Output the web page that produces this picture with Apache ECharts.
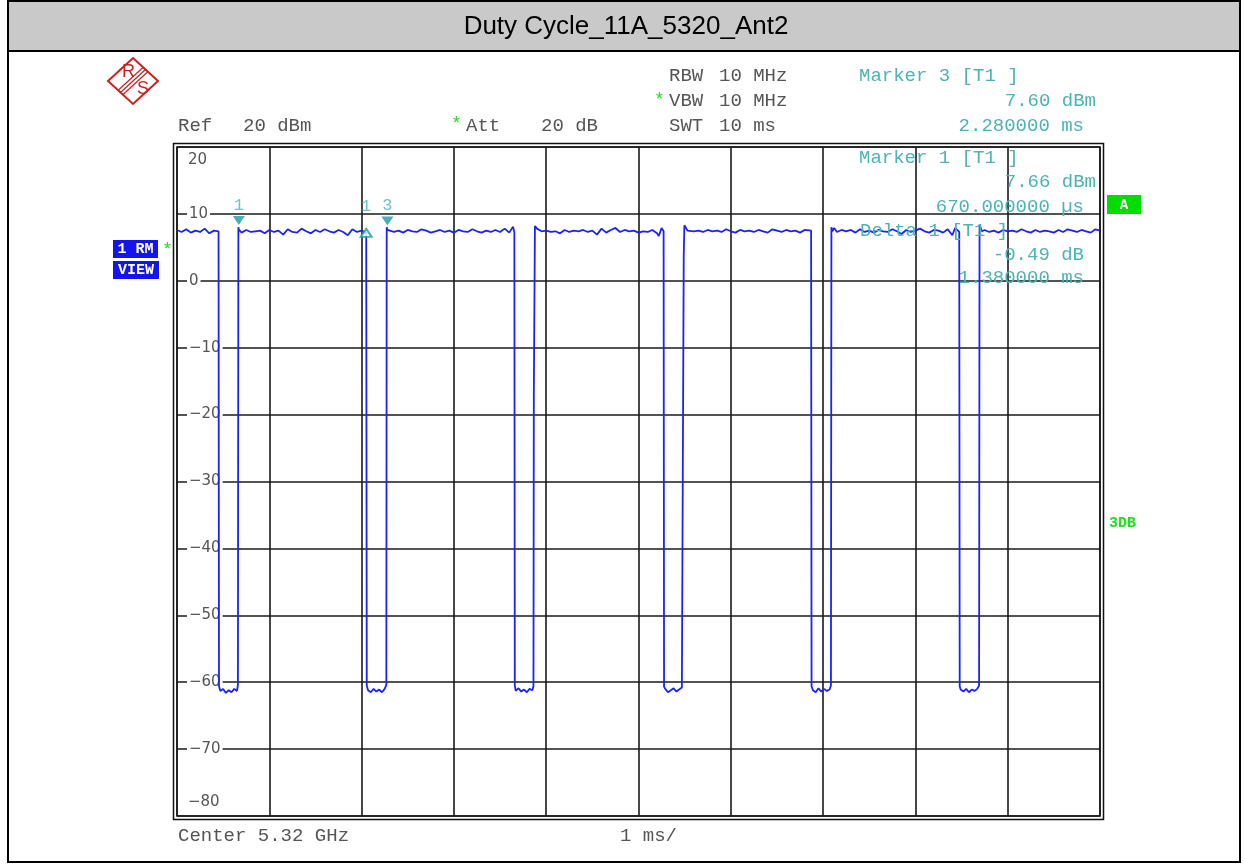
<!DOCTYPE html>
<html>
<head>
<meta charset="utf-8">
<script src="https://cdn.jsdelivr.net/npm/echarts@6/dist/echarts.min.js"></script>
<style>
html,body{margin:0;padding:0;background:#fff;}
#chart{width:1245px;height:865px;}
</style>
</head>
<body>
<div id="chart"></div>
<script>
// ---- data (time in ms, level in dBm) ----
const on1 = [[0,7.6],[0.05,7.3],[0.1,7.7],[0.15,7.2],[0.2,7.5],[0.25,7.3],[0.3,7.8],[0.35,7.1],[0.4,7.5],[0.45,7.4]];
const off1 = [[0.455,-60.6],[0.47,-61.3],[0.5,-61.0],[0.53,-61.6],[0.56,-61.2],[0.59,-61.5],[0.62,-61.0],[0.65,-61.3],[0.66,-60.4]];
const on2 = [[0.665,8.0],[0.67,7.66],[0.7,7.2],[0.75,7.6],[0.8,7.3],[0.85,7.4],[0.9,7.5],[0.95,7.1],[1.0,7.6],[1.05,7.3],[1.1,7.5],[1.15,6.9],[1.2,7.7],[1.25,7.3],[1.3,7.2],[1.35,7.8],[1.4,7.4],[1.45,7.1],[1.5,7.6],[1.55,7.3],[1.6,7.7],[1.65,7.4],[1.7,7.2],[1.75,7.6],[1.8,7.3],[1.85,6.8],[1.9,7.7],[1.95,7.3],[2.0,7.5],[2.05,7.17]];
const off2 = [[2.056,-60.5],[2.07,-61.2],[2.1,-61.5],[2.13,-61.0],[2.16,-61.4],[2.19,-61.1],[2.22,-61.5],[2.25,-61.0],[2.268,-60.4]];
const on3 = [[2.272,8.0],[2.28,7.6],[2.3,7.7],[2.35,7.3],[2.4,7.5],[2.45,7.2],[2.5,7.6],[2.55,7.4],[2.6,7.3],[2.65,7.7],[2.7,7.5],[2.75,7.2],[2.8,7.4],[2.85,7.6],[2.9,7.3],[2.95,7.5],[3.0,7.2],[3.05,7.6],[3.1,7.4],[3.15,7.3],[3.2,7.7],[3.25,7.4],[3.3,7.2],[3.35,7.5],[3.4,7.3],[3.45,7.6],[3.5,7.3],[3.55,7.8],[3.6,7.2],[3.64,8.1],[3.655,7.3]];
const off3 = [[3.66,-60.5],[3.67,-61.3],[3.7,-60.9],[3.73,-61.4],[3.76,-61.1],[3.79,-61.5],[3.82,-61.0],[3.85,-61.2],[3.862,-60.6]];
const on4 = [[3.866,-16.7],[3.872,-16.5],[3.878,8.2],[3.9,7.8],[3.95,7.4],[4.0,7.5],[4.05,7.3],[4.1,7.4],[4.15,7.1],[4.2,7.6],[4.25,7.3],[4.3,7.5],[4.35,7.4],[4.4,7.6],[4.45,7.3],[4.5,7.5],[4.55,6.9],[4.6,7.8],[4.65,7.2],[4.7,7.6],[4.75,7.9],[4.8,7.3],[4.85,7.6],[4.9,7.4],[4.95,7.5],[5.0,7.2],[5.05,7.4],[5.1,7.3],[5.15,7.6],[5.2,7.1],[5.22,6.7],[5.25,7.9],[5.272,7.4]];
const off4 = [[5.277,-60.7],[5.29,-61.0],[5.32,-61.5],[5.35,-61.2],[5.38,-60.9],[5.41,-61.4],[5.44,-61.1],[5.47,-60.8],[5.485,-60.8]];
const on5 = [[5.49,3.7],[5.493,3.5],[5.497,8.3],[5.53,7.5],[5.55,7.6],[5.6,7.4],[5.65,7.5],[5.7,7.3],[5.75,7.6],[5.8,7.4],[5.85,7.5],[5.9,7.3],[5.95,7.7],[6.0,7.4],[6.05,7.2],[6.1,7.6],[6.15,7.4],[6.2,7.5],[6.25,7.3],[6.3,7.6],[6.35,7.4],[6.4,7.2],[6.45,7.7],[6.5,7.5],[6.55,7.3],[6.6,7.6],[6.65,7.4],[6.7,7.5],[6.75,7.2],[6.8,7.6],[6.87,7.5]];
const off5 = [[6.875,-60.6],[6.89,-61.2],[6.92,-61.5],[6.95,-60.9],[6.98,-61.4],[7.01,-61.0],[7.04,-61.3],[7.07,-61.1],[7.085,-60.5]];
const on6 = [[7.09,8.0],[7.1,7.4],[7.12,7.9],[7.15,7.3],[7.2,7.6],[7.25,7.4],[7.3,7.6],[7.35,7.2],[7.4,7.7],[7.45,7.3],[7.5,7.5],[7.55,7.2],[7.6,7.6],[7.65,7.4],[7.7,7.3],[7.75,7.7],[7.8,7.4],[7.85,7.0],[7.9,7.6],[7.95,7.3],[8.0,7.5],[8.05,7.8],[8.1,7.4],[8.15,7.2],[8.2,7.6],[8.25,7.5],[8.3,7.2],[8.35,7.7],[8.4,6.8],[8.43,7.9],[8.475,7.3]];
const off6 = [[8.48,-60.6],[8.49,-61.1],[8.52,-61.4],[8.55,-61.0],[8.58,-61.5],[8.61,-61.1],[8.64,-61.3],[8.67,-61.0],[8.69,-60.5]];
const on7 = [[8.695,8.4],[8.72,7.4],[8.75,7.6],[8.8,7.3],[8.85,7.5],[8.9,7.2],[8.95,7.6],[9.0,7.4],[9.05,7.5],[9.1,7.3],[9.15,7.7],[9.2,7.4],[9.25,7.2],[9.3,7.6],[9.35,7.3],[9.4,7.5],[9.45,7.4],[9.5,7.2],[9.55,7.6],[9.6,7.3],[9.65,7.7],[9.7,7.5],[9.75,7.3],[9.8,7.6],[9.85,7.4],[9.9,7.2],[9.95,7.7],[10.0,7.5]];

const markerNames = ['1','3'];
const markerMs = [0.67, 2.28];
const markerDbm = [7.66, 7.60];
const deltaName = '1';
const deltaMs = 2.05;
const deltaDbm = 7.17;

const yTicks = [20,10,0,-10,-20,-30,-40,-50,-60,-70,-80];
const xTicks = [0,1,2,3,4,5,6,7,8,9,10];

const titleText = 'Duty Cycle_11A_5320_Ant2';

// ---- build ----
const trace = [].concat(on1,off1,on2,off2,on3,off3,on4,off4,on5,off5,on6,off6,on7);
const mono = '"Liberation Mono","Courier New",monospace';
const sans = '"DejaVu Sans", sans-serif';
const gray = '#555555';
const teal = '#4db3b3';
const green = '#22dd22';

function txt(text, x, y, opt) {
  opt = opt || {};
  return {
    type: 'text', z: 100,
    style: {
      text: text, x: x, y: y,
      fill: opt.fill || gray,
      fontSize: opt.size || 19,
      fontFamily: opt.family || mono,
      fontWeight: opt.weight || 'normal',
      textAlign: opt.align || 'left',
      textVerticalAlign: 'middle'
    }
  };
}

const chart = echarts.init(document.getElementById('chart'), null, {renderer: 'canvas'});

const graphics = [
  // outer frame and title bar
  {type:'rect', z:1, shape:{x:8,y:1,width:1232,height:861}, style:{fill:'none', stroke:'#000', lineWidth:2}},
  {type:'rect', z:2, shape:{x:8,y:1,width:1232,height:50}, style:{fill:'#c9c9c9', stroke:'#000', lineWidth:2}},
  {type:'text', z:100, style:{text:titleText, x:626, y:27, fill:'#000', fontSize:26, fontFamily:'"Liberation Sans", Arial, sans-serif', textAlign:'center', textVerticalAlign:'middle'}},
  // plot outer border (double line)
  {type:'rect', z:3, shape:{x:173.5,y:143.5,width:930,height:676}, style:{fill:'none', stroke:'#111', lineWidth:1.5}},
  // R&S logo
  {type:'polygon', z:50, shape:{points:[[133,58],[158,81],[133,104],[108,81]]}, style:{fill:'none', stroke:'#cc2020', lineWidth:2}},
  {type:'line', z:50, shape:{x1:145.5,y1:69.5,x2:120.5,y2:92.5}, style:{stroke:'#cc2020', lineWidth:1.2}},
  {type:'line', z:50, shape:{x1:147.8,y1:71.8,x2:122.8,y2:94.8}, style:{stroke:'#cc2020', lineWidth:1.2}},
  {type:'line', z:50, shape:{x1:143.2,y1:67.2,x2:118.2,y2:90.2}, style:{stroke:'#cc2020', lineWidth:1.2}},
  txt('R', 122, 72, {fill:'#cc2020', size:18, family:'"Liberation Sans", Arial, sans-serif'}),
  txt('S', 137, 89, {fill:'#cc2020', size:18, family:'"Liberation Sans", Arial, sans-serif'}),
  // header settings
  txt('RBW', 669, 76), txt('10 MHz', 719, 76),
  txt('*', 654, 100, {fill:green, size:18}), txt('VBW', 669, 101), txt('10 MHz', 719, 101),
  txt('Ref', 178, 126), txt('20 dBm', 243, 126),
  txt('*', 451, 124, {fill:green, size:18}), txt('Att', 466, 126), txt('20 dB', 541, 126),
  txt('SWT', 669, 126), txt('10 ms', 719, 126),
  // marker readouts
  txt('Marker 3 [T1 ]', 859, 76, {fill:teal}),
  txt('7.60 dBm', 1096, 101, {fill:teal, align:'right'}),
  txt('2.280000 ms', 1084, 126, {fill:teal, align:'right'}),
  txt('Marker 1 [T1 ]', 859, 158, {fill:teal}),
  txt('7.66 dBm', 1096, 182, {fill:teal, align:'right'}),
  txt('670.000000 \u00b5s', 1084, 207, {fill:teal, align:'right'}),
  txt('Delta 1 [T1 ]', 860, 231, {fill:teal}),
  txt('-0.49 dB', 1084, 255, {fill:teal, align:'right'}),
  txt('1.380000 ms', 1084, 278, {fill:teal, align:'right'}),
  // footer
  txt('Center 5.32 GHz', 178, 836),
  txt('1 ms/', 620, 836),
  // left trace info boxes
  {type:'rect', z:60, shape:{x:113,y:240,width:45,height:18}, style:{fill:'#1414f0'}},
  txt('1 RM', 135.5, 249.5, {fill:'#fff', size:15, weight:'bold', align:'center'}),
  {type:'rect', z:60, shape:{x:113,y:261,width:46,height:18}, style:{fill:'#1414f0'}},
  txt('VIEW', 136, 270.5, {fill:'#fff', size:15, weight:'bold', align:'center'}),
  txt('*', 162, 250, {fill:green, size:18}),
  // right side indicators
  {type:'rect', z:60, shape:{x:1107,y:195,width:34,height:19}, style:{fill:'#00dd00'}},
  txt('A', 1124, 205, {fill:'#fff', size:14, weight:'bold', align:'center'}),
  txt('3DB', 1109, 523, {fill:green, size:15, weight:'bold'}),
  // top and bottom y labels placed inside the frame
  txt('20', 188, 160, {size:15, family:sans}),
  txt('\u221280', 188, 802, {size:15, family:sans})
];

const option = {
  animation: false,
  backgroundColor: '#fff',
  grid: {left:177, right:145, top:147, bottom:49, show:true, borderColor:'#111', borderWidth:1.5, backgroundColor:'transparent'},
  xAxis: {
    type:'value', min:xTicks[0], max:xTicks[xTicks.length-1], interval:1,
    axisLine:{show:false}, axisTick:{show:false}, axisLabel:{show:false},
    splitLine:{show:true, lineStyle:{color:'#1a1a1a', width:1.6}}
  },
  yAxis: {
    type:'value', min:yTicks[yTicks.length-1], max:yTicks[0], interval:10,
    axisLine:{show:false}, axisTick:{show:false},
    splitLine:{show:true, lineStyle:{color:'#1a1a1a', width:1.6}},
    axisLabel:{
      show:true, inside:true, margin:10,
      color:gray, fontSize:15, fontFamily:sans,
      formatter: function(v){
        if (v === yTicks[0] || v === yTicks[yTicks.length-1]) return '';
        return String(v).replace('-', '\u2212');
      },
      backgroundColor:'#fff', padding:[0,2,0,2]
    }
  },
  series: [
    {
      type:'line', data: trace, showSymbol:false, symbol:'none',
      lineStyle:{color:'#1a22ff', width:1.8}, z:5
    },
    {
      type:'scatter', z:8,
      data: markerMs.map(function(t,i){ return {name:markerNames[i], value:[t, markerDbm[i]]}; }),
      symbol:'triangle', symbolRotate:180, symbolSize:[12,9], symbolOffset:[0,-9],
      itemStyle:{color:'#1a9c9c'},
      label:{show:true, position:'top', distance:2, formatter:'{b}', color:teal, fontSize:17, fontFamily:mono}
    },
    {
      type:'scatter', z:8,
      data: [{name:deltaName, value:[deltaMs, deltaDbm]}],
      symbol:'emptyTriangle', symbolSize:[11,8],
      itemStyle:{color:'#1a9c9c', borderWidth:1.2},
      label:{show:true, position:'top', distance:13, formatter:'{b}', color:teal, fontSize:17, fontFamily:mono}
    }
  ],
  graphic: graphics
};
chart.setOption(option);
</script>
</body>
</html>
